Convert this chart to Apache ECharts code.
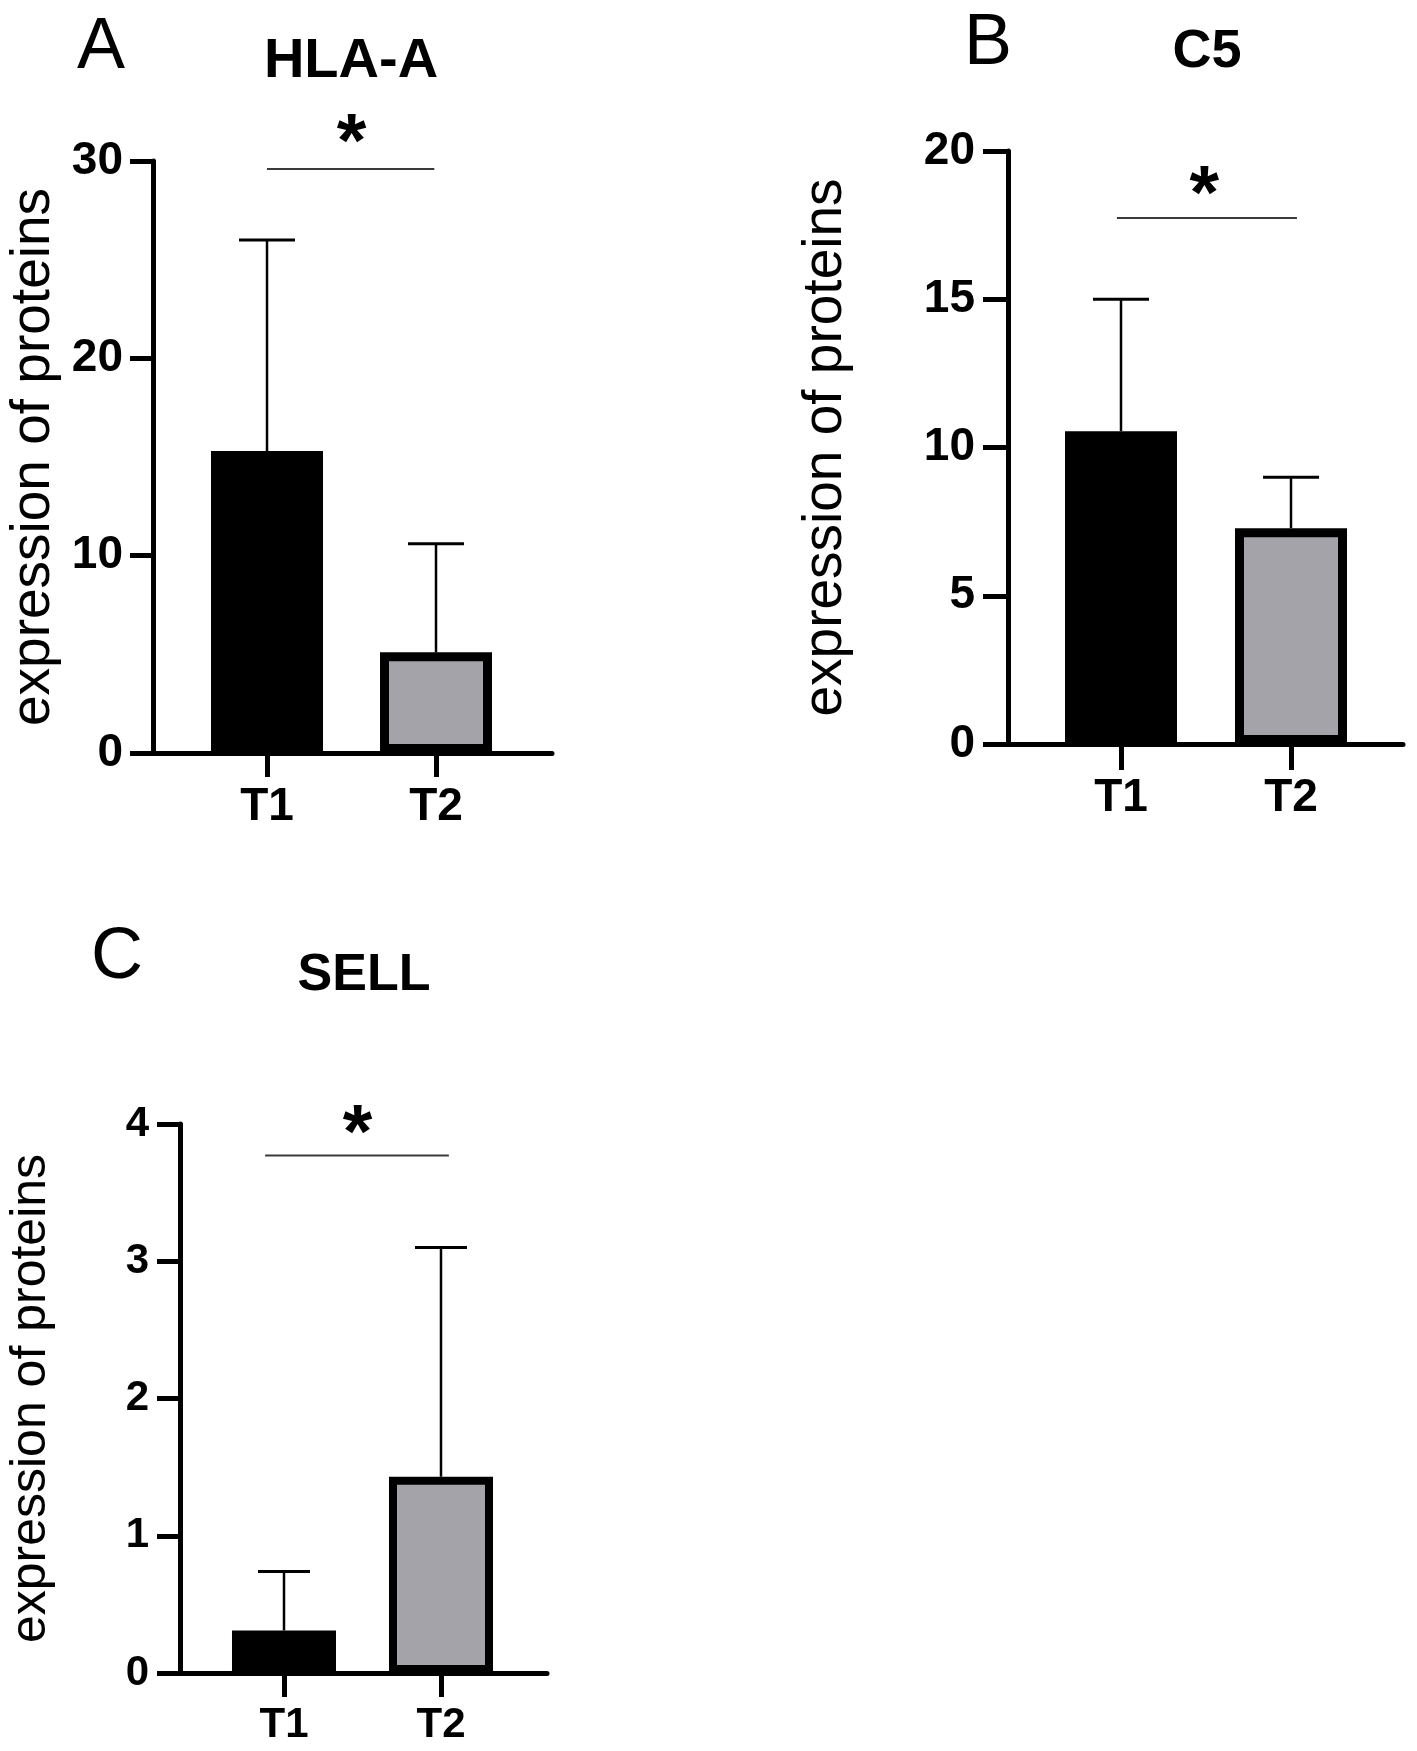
<!DOCTYPE html>
<html><head><meta charset="utf-8">
<script src="https://cdn.jsdelivr.net/npm/echarts@6/dist/echarts.min.js"></script>
<style>html,body{margin:0;padding:0;background:#fff}#c{width:1417px;height:1751px}</style>
</head><body><div id="c"></div>
<script>
// ---- data ----
const categories = ['T1', 'T2'];
const hlaMean = [15.3, 5.1];
const hlaSD = [10.7, 5.5];
const c5Mean = [10.55, 7.28];
const c5SD = [4.45, 1.72];
const sellMean = [0.31, 1.43];
const sellSD = [0.43, 1.67];
const hlaTicks = [0, 10, 20, 30];
const c5Ticks = [0, 5, 10, 15, 20];
const sellTicks = [0, 1, 2, 3, 4];
const panelTitles = ['HLA-A', 'C5', 'SELL'];
const panelLetters = ['A', 'B', 'C'];
const yName = 'expression of proteins';
const sigMark = '*';
// significance bracket [from, to, height] and star [x, y]
const hlaSig = [1.0, 1.99, 29.6];
const hlaStar = [1.5, 31.6];
const c5Sig = [0.976, 2.035, 17.74];
const c5Star = [1.49, 19.0];
const sellSig = [0.88, 2.05, 3.77];
const sellStar = [1.468, 4.03];

// ---- layout / style ----
const FONT = '"Liberation Sans", Arial, sans-serif';
const barColors = ['#000000', '#a4a3a9'];
const panels = [
  { mean: hlaMean, sd: hlaSD, ticks: hlaTicks, sig: hlaSig, star: hlaStar,
    grid: { left: 153, top: 161, width: 399, height: 592 }, xmin: 0.3254, xmax: 2.6863,
    barWidth: 112, border: 9, cap: 28, tickFs: 46, catFs: 46, nameFs: 55, nameGap: 92, labelMargin: 30, yTickLen: 23, xTickLen: 24 },
  { mean: c5Mean, sd: c5SD, ticks: c5Ticks, sig: c5Sig, star: c5Star,
    grid: { left: 1008, top: 151, width: 395, height: 593 }, xmin: 0.3353, xmax: 2.6588,
    barWidth: 112, border: 9, cap: 28, tickFs: 46, catFs: 46, nameFs: 55, nameGap: 155, labelMargin: 33, yTickLen: 25, xTickLen: 26 },
  { mean: sellMean, sd: sellSD, ticks: sellTicks, sig: sellSig, star: sellStar,
    grid: { left: 180, top: 1124, width: 367, height: 549 }, xmin: 0.3376, xmax: 2.6752,
    barWidth: 104, border: 8, cap: 26, tickFs: 42, catFs: 42, nameFs: 50, nameGap: 124, labelMargin: 31, yTickLen: 23, xTickLen: 24 }
];
const titlePos = [[351, 62], [1207, 52], [364, 976]];
const letterPos = [[101, 48], [988, 44], [117, 958]];

const grid = [], xAxis = [], yAxis = [], series = [], graphic = [];
panels.forEach((p, i) => {
  grid.push(Object.assign({ containLabel: false }, p.grid));
  xAxis.push({
    type: 'value', gridIndex: i, min: p.xmin, max: p.xmax,
    axisLine: { show: true, lineStyle: { color: '#000', width: 5 } },
    axisTick: { show: true, customValues: [1, 2], length: p.xTickLen, lineStyle: { color: '#000', width: 5 } },
    axisLabel: { show: true, customValues: [1, 2], margin: 31, color: '#000', fontSize: p.catFs, fontWeight: 'bold', fontFamily: FONT,
      formatter: v => categories[Math.round(v) - 1] || '' },
    splitLine: { show: false }
  });
  const tks = p.ticks;
  yAxis.push({
    type: 'value', gridIndex: i, min: tks[0], max: tks[tks.length - 1], interval: tks[1] - tks[0],
    name: yName, nameLocation: 'middle', nameGap: p.nameGap,
    nameTextStyle: { color: '#000', fontSize: p.nameFs, fontFamily: FONT, fontWeight: 'normal' },
    axisLine: { show: true, lineStyle: { color: '#000', width: 5 } },
    axisTick: { show: true, length: p.yTickLen, lineStyle: { color: '#000', width: 5 } },
    axisLabel: { margin: p.labelMargin, color: '#000', fontSize: p.tickFs, fontWeight: 'bold', fontFamily: FONT },
    splitLine: { show: false }
  });
  series.push({
    type: 'bar', xAxisIndex: i, yAxisIndex: i, barWidth: p.barWidth, z: 2,
    data: p.mean.map((m, k) => ({ value: [k + 1, m],
      itemStyle: { color: barColors[k], borderColor: '#000', borderWidth: p.border } }))
  });
  series.push({
    type: 'custom', xAxisIndex: i, yAxisIndex: i, z: 3, clip: false,
    data: p.mean.map((m, k) => [k + 1, m, p.sd[k]]),
    renderItem: (params, api) => {
      const x = api.value(0), m = api.value(1), s = api.value(2);
      const b = api.coord([x, m]), t = api.coord([x, m + s]);
      return { type: 'group', children: [
        { type: 'line', shape: { x1: b[0], y1: b[1], x2: t[0], y2: t[1] }, style: { stroke: '#000', lineWidth: 2.5 } },
        { type: 'line', shape: { x1: t[0] - p.cap, y1: t[1], x2: t[0] + p.cap, y2: t[1] }, style: { stroke: '#000', lineWidth: 3 } }
      ] };
    }
  });
  series.push({
    type: 'custom', xAxisIndex: i, yAxisIndex: i, z: 3, clip: false,
    data: [[p.sig[0], p.sig[2], p.sig[1], p.star[0], p.star[1]]],
    renderItem: (params, api) => {
      const a = api.coord([api.value(0), api.value(1)]);
      const b = api.coord([api.value(2), api.value(1)]);
      const s = api.coord([api.value(3), api.value(4)]);
      const fs = 76;
      return { type: 'group', children: [
        { type: 'line', shape: { x1: a[0], y1: a[1], x2: b[0], y2: b[1] }, style: { stroke: '#3a3a3a', lineWidth: 2 } },
        { type: 'text', x: s[0], y: s[1] + fs * 0.21, style: { text: sigMark, fill: '#000', fontSize: fs, fontWeight: 'bold', fontFamily: FONT,
          align: 'center', verticalAlign: 'middle', textAlign: 'center', textVerticalAlign: 'middle' } }
      ] };
    }
  });
  graphic.push({ type: 'text', x: titlePos[i][0], y: titlePos[i][1],
    style: { text: panelTitles[i], fill: '#000', fontSize: i === 2 ? 52 : (i === 1 ? 54 : 56), fontWeight: 'bold', fontFamily: FONT,
      align: 'center', verticalAlign: 'middle', textAlign: 'center', textVerticalAlign: 'middle' } });
  graphic.push({ type: 'text', x: letterPos[i][0], y: letterPos[i][1],
    style: { text: panelLetters[i], fill: '#000', fontSize: 72, fontWeight: 'normal', fontFamily: FONT,
      align: 'center', verticalAlign: 'middle', textAlign: 'center', textVerticalAlign: 'middle' } });
});

const chart = echarts.init(document.getElementById('c'), null, { renderer: 'canvas' });
chart.setOption({ backgroundColor: '#fff', animation: false, grid, xAxis, yAxis, series, graphic });
</script></body></html>
